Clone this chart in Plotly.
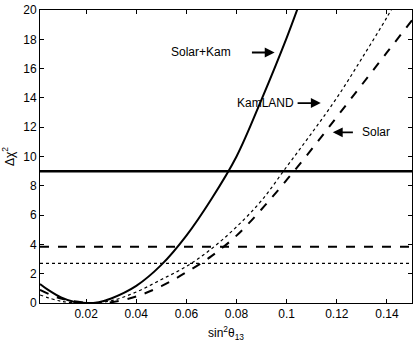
import plotly.graph_objects as go

# sin^2(theta13) grid and delta chi^2
x_comb = [0.0016, 0.005, 0.01, 0.015, 0.02, 0.025, 0.03, 0.04, 0.05, 0.06, 0.07, 0.08, 0.09, 0.1, 0.105]
y_comb = [1.3, 0.88, 0.38, 0.085, 0.0, 0.06, 0.31, 1.17, 2.6, 4.6, 7.1, 10.0, 13.9, 18.1, 20.4]

x_kam = [0.0016, 0.01, 0.02, 0.03, 0.04, 0.05, 0.06, 0.07, 0.08, 0.09, 0.1, 0.11, 0.12, 0.13, 0.14, 0.145]
y_kam = [0.55, 0.12, 0.0, 0.15, 0.75, 1.6, 2.5, 3.7, 5.2, 7.0, 9.3, 11.6, 14.0, 16.7, 19.5, 21.0]

x_sol = [0.0016, 0.01, 0.02, 0.025, 0.03, 0.04, 0.05, 0.06, 0.07, 0.08, 0.09, 0.1, 0.11, 0.12, 0.13, 0.14, 0.15]
y_sol = [0.9, 0.3, 0.02, 0.0, 0.05, 0.45, 1.15, 2.1, 3.2, 4.6, 6.4, 8.4, 10.5, 12.7, 14.9, 17.1, 19.3]

levels = [9, 3.84, 2.7]
level_dash = ['solid', 'dash', 'dot']
level_width = [2.5, 2, 1.2]

x_range = [0.0016, 0.15]
x_ticks = [0.02, 0.04, 0.06, 0.08, 0.1, 0.12, 0.14]
y_ticks = [0, 2, 4, 6, 8, 10, 12, 14, 16, 18, 20]

fig = go.Figure()

for lv, d, w in zip(levels, level_dash, level_width):
    fig.add_trace(go.Scatter(x=x_range, y=[lv, lv], mode='lines',
                             line=dict(color='black', width=w, dash=d)))

fig.add_trace(go.Scatter(x=x_comb, y=y_comb, mode='lines', line_shape='spline',
                         line=dict(color='black', width=2)))
fig.add_trace(go.Scatter(x=x_kam, y=y_kam, mode='lines', line_shape='spline',
                         line=dict(color='black', width=1.2, dash='dot')))
fig.add_trace(go.Scatter(x=x_sol, y=y_sol, mode='lines', line_shape='spline',
                         line=dict(color='black', width=2, dash='dash')))

txt = dict(family='Liberation Sans, Arial, sans-serif', size=12, color='black')
arrow = dict(axref='x', ayref='y', showarrow=True, arrowhead=2, arrowsize=1.1,
             arrowwidth=1.8, arrowcolor='black', font=txt)

# labels: text sits at (ax, ay), arrow points to (x, y)
fig.add_annotation(x=0.0952, y=17.1, ax=0.066, ay=17.1, text='Solar+Kam', startstandoff=19, **arrow)
fig.add_annotation(x=0.1136, y=13.65, ax=0.0916, ay=13.65, text='KamLAND', startstandoff=2, **arrow)
fig.add_annotation(x=0.1184, y=11.65, ax=0.1358, ay=11.65, text='Solar', startstandoff=8, **arrow)

fig.update_layout(
    width=414, height=343,
    margin=dict(l=40, r=2, t=10, b=40),
    showlegend=False,
    plot_bgcolor='white',
    paper_bgcolor='white',
    font=txt,
    xaxis=dict(range=x_range, tickvals=x_ticks, ticktext=['0.02', '0.04', '0.06', '0.08', '0.1', '0.12', '0.14'],
               showgrid=False, zeroline=False, showline=True, linecolor='black', linewidth=1,
               mirror='ticks', ticks='inside', ticklen=4, tickcolor='black',
               title=dict(text='sin<sup>2</sup>θ<sub>13</sub>', standoff=8, font=txt)),
    yaxis=dict(range=[0, 20], tickvals=y_ticks,
               showgrid=False, zeroline=False, showline=True, linecolor='black', linewidth=1,
               mirror='ticks', ticks='inside', ticklen=4, tickcolor='black',
               title=dict(text='Δχ<sup>2</sup>', standoff=6, font=txt)),
)

# drop the default 8px page margin so the figure sits at the window corner
fig.write_html("out.html", config={'displayModeBar': False},
               post_script="document.body.style.margin='0';")
